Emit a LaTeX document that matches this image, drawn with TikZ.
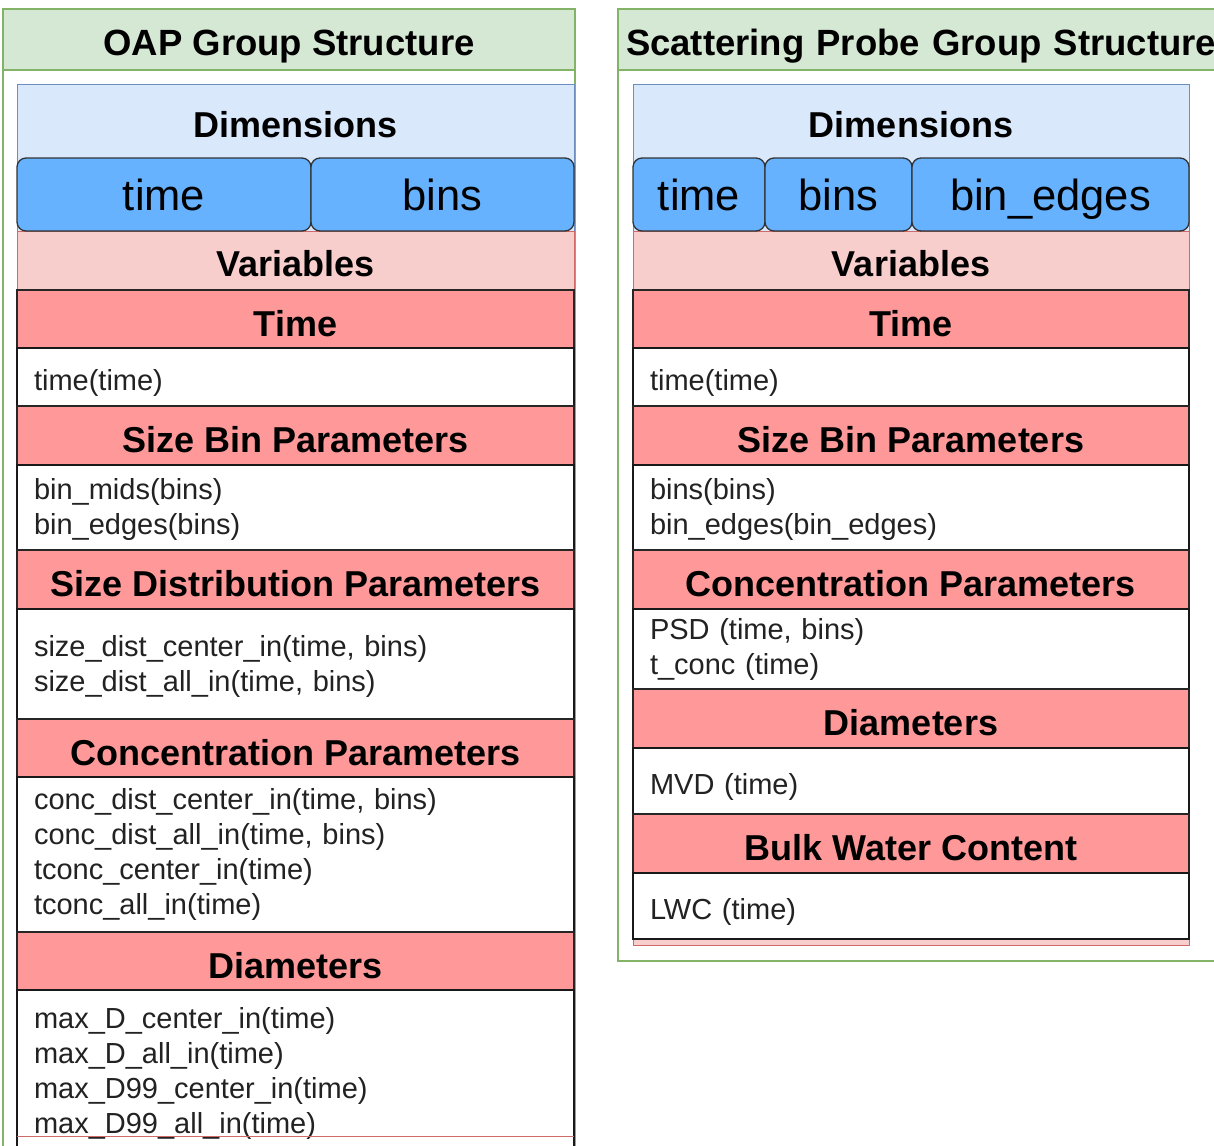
\documentclass[tikz,border=0pt]{standalone}
\usepackage{fontspec}
\setmainfont{Liberation Sans}
\definecolor{grnF}{HTML}{D5E8D4}
\definecolor{grnS}{HTML}{82B366}
\definecolor{bluF}{HTML}{DAE8FC}
\definecolor{bluS}{HTML}{6C8EBF}
\definecolor{cellF}{HTML}{66B2FF}
\definecolor{varF}{HTML}{F8CECC}
\definecolor{varS}{HTML}{D06A68}
\definecolor{hdrF}{HTML}{FF9999}
\definecolor{txt}{HTML}{222222}
\begin{document}
\begin{tikzpicture}[x=1pt,y=-1pt,
  box/.style={rectangle,anchor=north west,inner sep=0pt,outer sep=0pt},
  grpbody/.style={box,draw=grnS,fill=white,line width=1.2pt},
  grphead/.style={box,draw=grnS,fill=grnF,line width=1.2pt,text height=33pt,text depth=0pt,font=\fontsize{36.5}{40}\selectfont\bfseries},
  dimbox/.style={box,draw=bluS,fill=bluF,line width=1pt},
  varbox/.style={box,draw=varS,fill=varF,line width=1pt},
  lbl/.style={inner sep=0pt,font=\fontsize{36}{40}\selectfont\bfseries},
  dimcell/.style={box,draw=black!80,fill=cellF,line width=1.3pt,rounded corners=9pt,text height=31pt,text depth=0pt,font=\fontsize{43.5}{48}\selectfont},
  hdr/.style={box,draw=black!85,fill=hdrF,line width=1.5pt,text height=34pt,text depth=0pt,font=\fontsize{36}{40}\selectfont\bfseries},
  rowL/.style={box,draw=black!90,fill=white,line width=1.5pt,inner xsep=17pt,text width=523pt,align=left,text=txt,font=\fontsize{29}{35}\selectfont},
  rowR/.style={box,draw=black!90,fill=white,line width=1.5pt,inner xsep=17pt,text width=522pt,align=left,text=txt,font=\fontsize{29}{35}\selectfont},
  oneline/.style={text height=27pt,text depth=0pt}
]
\useasboundingbox (0,0) rectangle (1214,1145);
\begin{scope}
\clip (0,0) rectangle (1214,1145);
% ---------------- OAP (left) ----------------
\node[grpbody,minimum width=572pt,minimum height=1170pt] (oap) at (3,9) {};
\node[grphead,minimum width=572pt,minimum height=61pt] (oaph) at (3,9) {OAP Group Structure};
\node[dimbox,minimum width=557pt,minimum height=146pt] (ldim) at (17,85) {};
\node[lbl] (ldiml) at (295.5,125) {Dimensions};
\node[varbox,minimum width=557pt,minimum height=905pt] (lvar) at (17,231) {};
\node[lbl] (lvarl) at (295.5,264) {Variables};
\node[dimcell,minimum width=294pt,minimum height=73pt] (ltime) at (17,158) {time};
\node[dimcell,minimum width=263pt,minimum height=73pt] (lbins) at (311,158) {bins};
\node[hdr,minimum width=557pt,minimum height=58pt] (lh1) at (17,290) {Time};
\node[rowL,oneline,minimum height=58pt] (lr1) at (17,348) {time(time)};
\node[hdr,minimum width=557pt,minimum height=59pt] (lh2) at (17,406) {Size Bin Parameters};
\node[rowL,minimum height=85pt] (lr2) at (17,465) {\rule{0pt}{25pt}bin\_mids(bins)\\bin\_edges(bins)};
\node[hdr,minimum width=557pt,minimum height=59pt] (lh3) at (17,550) {Size Distribution Parameters};
\node[rowL,minimum height=110pt] (lr3) at (17,609) {\rule{0pt}{25pt}size\_dist\_center\_in(time, bins)\\size\_dist\_all\_in(time, bins)};
\node[hdr,minimum width=557pt,minimum height=58pt] (lh4) at (17,719) {Concentration Parameters};
\node[rowL,minimum height=155pt] (lr4) at (17,777) {conc\_dist\_center\_in(time, bins)\\conc\_dist\_all\_in(time, bins)\\tconc\_center\_in(time)\\tconc\_all\_in(time)};
\node[hdr,minimum width=557pt,minimum height=58pt] (lh5) at (17,932) {Diameters};
\node[rowL,minimum height=163pt] (lr5) at (17,990) {\rule{0pt}{25pt}max\_D\_center\_in(time)\\max\_D\_all\_in(time)\\max\_D99\_center\_in(time)\\max\_D99\_all\_in(time)};
\draw[varS,line width=1pt] (lvar.south west) -- (lvar.south east);
% ---------------- Scattering probe (right) ----------------
\node[grpbody,minimum width=600pt,minimum height=952pt] (sp) at (618,9) {};
\node[grphead,minimum width=600pt,minimum height=61pt,text width=600pt,align=left,inner xsep=0pt] (sph) at (618,9) {\hspace*{8pt}Scattering Probe Group Structure};
\node[dimbox,minimum width=556pt,minimum height=146pt] (rdim) at (633,85) {};
\node[lbl] (rdiml) at (911,125) {Dimensions};
\node[varbox,minimum width=556pt,minimum height=714pt] (rvar) at (633,231) {};
\node[lbl] (rvarl) at (911,264) {Variables};
\node[dimcell,minimum width=132pt,minimum height=73pt] (rtime) at (633,158) {time};
\node[dimcell,minimum width=147pt,minimum height=73pt] (rbins) at (765,158) {bins};
\node[dimcell,minimum width=277pt,minimum height=73pt] (redges) at (912,158) {bin\_edges};
\node[hdr,minimum width=556pt,minimum height=58pt] (rh1) at (633,290) {Time};
\node[rowR,oneline,minimum height=58pt] (rr1) at (633,348) {time(time)};
\node[hdr,minimum width=556pt,minimum height=59pt] (rh2) at (633,406) {Size Bin Parameters};
\node[rowR,minimum height=85pt] (rr2) at (633,465) {\rule{0pt}{25pt}bins(bins)\\bin\_edges(bin\_edges)};
\node[hdr,minimum width=556pt,minimum height=59pt] (rh3) at (633,550) {Concentration Parameters};
\node[rowR,minimum height=80pt] (rr3) at (633,609) {PSD (time, bins)\\t\_conc (time)};
\node[hdr,minimum width=556pt,minimum height=59pt] (rh4) at (633,689) {Diameters};
\node[rowR,oneline,minimum height=66pt] (rr4) at (633,748) {MVD (time)};
\node[hdr,minimum width=556pt,minimum height=59pt] (rh5) at (633,814) {Bulk Water Content};
\node[rowR,oneline,minimum height=66pt] (rr5) at (633,873) {LWC (time)};
\end{scope}
\end{tikzpicture}
\end{document}
